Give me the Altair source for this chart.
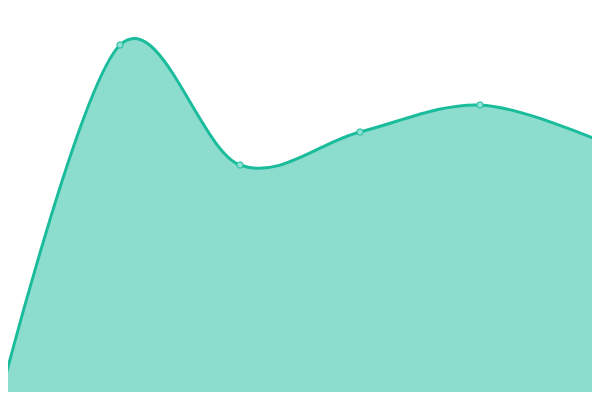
import altair as alt
import pandas as pd

xs = [0, 1, 2, 3, 4, 5]
values = [0.5, 88.75, 58.75, 67.0, 73.75, 64.75]

df = pd.DataFrame({"x": xs, "v": values})

# 120 px per x step, 4 px per y unit, matching the reference framing
xscale = alt.Scale(domain=[1 / 15, 74 / 15], nice=False, zero=False)
yscale = alt.Scale(domain=[2, 98], nice=False, zero=False)

base = alt.Chart(df).encode(
    x=alt.X("x:Q", scale=xscale, axis=None),
    y=alt.Y("v:Q", scale=yscale, axis=None),
)

area = base.mark_area(
    interpolate="cardinal",
    color="#1abc9c",
    opacity=0.5,
    clip=True,
)
line = base.mark_line(
    interpolate="cardinal",
    color="#1abc9c",
    strokeWidth=3,
    clip=True,
)
points = base.mark_point(
    filled=True,
    shape="circle",
    size=40,
    fill="#8de2d2",
    stroke="#1abc9c",
    strokeWidth=1,
    opacity=1,
    clip=True,
)

chart = (
    alt.layer(area, line, points)
    .properties(
        width=584,
        height=384,
        autosize=alt.AutoSizeParams(type="none"),
        padding=0,
    )
    .configure_view(stroke=None)
)

chart.save("out.html", embed_options={"renderer": "svg", "actions": False})
